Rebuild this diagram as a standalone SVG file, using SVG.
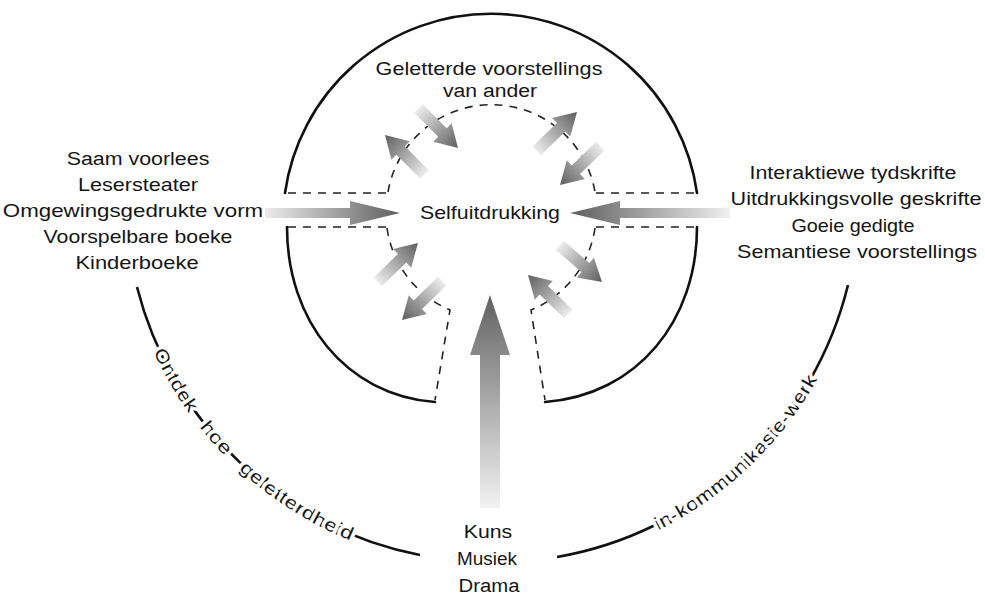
<svg xmlns="http://www.w3.org/2000/svg" xmlns:xlink="http://www.w3.org/1999/xlink" width="985" height="595" viewBox="0 0 985 595">
<style>
  text { font-family: "Liberation Sans", Arial, sans-serif; font-size: 18px; fill: #151515; }
  .c { text-anchor: middle; }
  .solid { fill: none; stroke: #111; stroke-width: 2.6; stroke-linecap: round; }
  .dash { fill: none; stroke: #222; stroke-width: 1.6; stroke-dasharray: 8 7; }
  .arc { fill: none; stroke: #111; stroke-width: 2.6; }
  .halo { stroke: #fff; stroke-width: 6; paint-order: stroke; stroke-linejoin: round; dominant-baseline: central; }
</style>
<defs>
  <linearGradient id="gx" x1="0" y1="0" x2="1" y2="0">
    <stop offset="0" stop-color="#ececec"/>
    <stop offset="1" stop-color="#5e5e5e"/>
  </linearGradient>
  <linearGradient id="gxr" x1="1" y1="0" x2="0" y2="0">
    <stop offset="0" stop-color="#f0f0f0"/>
    <stop offset="1" stop-color="#5e5e5e"/>
  </linearGradient>
  <linearGradient id="gy" x1="0" y1="1" x2="0" y2="0">
    <stop offset="0" stop-color="#f2f2f2"/>
    <stop offset="1" stop-color="#626262"/>
  </linearGradient>
  <polygon id="sa" points="0,0 -22,-13 -22,-6 -56,-6 -56,6 -22,6 -22,13" fill="url(#gx)"/>
  <path id="outerL" d="M137,287 A364,364 0 0 0 420,555"/>
  <path id="outerR" d="M557,557 A364,364 0 0 0 848,285"/>
</defs>
<rect width="985" height="595" fill="#fff"/>

<g id="frame">
  <path class="solid" d="M285,193 A208,208 0 0 1 697,193"/>
  <path class="solid" d="M287,227 C287,320 345,395 435,402"/>
  <path class="solid" d="M697,227 C697,320 638,395 545,402"/>
  <path class="dash" d="M288,193 H386"/>
  <path class="dash" d="M596,193 H695"/>
  <path class="dash" d="M288,227 H386"/>
  <path class="dash" d="M596,227 H695"/>
  <path class="dash" d="M388,192 A105,105 0 0 1 595,192"/>
  <path class="dash" d="M387,228 A105,105 0 0 0 450,310 L435,400"/>
  <path class="dash" d="M595,228 A105,105 0 0 1 531,310 L545,400"/>
</g>

<g id="connectors">
  <polygon points="265,208 350,208 350,201 400,213 350,225 350,218 265,218" fill="url(#gx)"/>
  <polygon points="730,208 620,208 620,201 570,213 620,225 620,218 730,218" fill="url(#gxr)"/>
  <polygon points="480,508 480,355 470,355 490,295 510,355 500,355 500,508" fill="url(#gy)"/>
  <use xlink:href="#sa" transform="translate(385,135) rotate(225)"/>
  <use xlink:href="#sa" transform="translate(458,148) rotate(45)"/>
  <use xlink:href="#sa" transform="translate(577,112) rotate(316)"/>
  <use xlink:href="#sa" transform="translate(560,185) rotate(136)"/>
  <use xlink:href="#sa" transform="translate(418,243) rotate(316)"/>
  <use xlink:href="#sa" transform="translate(402,320) rotate(136)"/>
  <use xlink:href="#sa" transform="translate(602,282) rotate(41)"/>
  <use xlink:href="#sa" transform="translate(528,275) rotate(224)"/>
  <use xlink:href="#outerL" class="arc"/>
  <use xlink:href="#outerR" class="arc"/>
</g>

<g id="node-center">
  <text class="c" transform="translate(490,219) scale(1.186,1)">Selfuitdrukking</text>
</g>
<g id="node-top">
  <text class="c" transform="translate(489,75) scale(1.2,1)">Geletterde voorstellings</text>
  <text class="c" transform="translate(490,97) scale(1.175,1)">van ander</text>
</g>
<g id="node-left">
  <text class="c" transform="translate(138,165) scale(1.19,1)">Saam voorlees</text>
  <text class="c" transform="translate(138,191) scale(1.2,1)">Lesersteater</text>
  <text class="c" transform="translate(133,217) scale(1.24,1)">Omgewingsgedrukte vorm</text>
  <text class="c" transform="translate(138,243) scale(1.18,1)">Voorspelbare boeke</text>
  <text class="c" transform="translate(137,269) scale(1.22,1)">Kinderboeke</text>
</g>
<g id="node-right">
  <text class="c" transform="translate(853,179) scale(1.19,1)">Interaktiewe tydskrifte</text>
  <text class="c" transform="translate(856,205) scale(1.2,1)">Uitdrukkingsvolle geskrifte</text>
  <text class="c" transform="translate(853,232) scale(1.1,1)">Goeie gedigte</text>
  <text class="c" transform="translate(857,258) scale(1.2,1)">Semantiese voorstellings</text>
</g>
<g id="node-bottom">
  <text class="c" transform="translate(488,538) scale(1.18,1)">Kuns</text>
  <text class="c" transform="translate(487,565) scale(1.05,1)">Musiek</text>
  <text class="c" transform="translate(489,592) scale(1.13,1)">Drama</text>
</g>
<g id="label-left">
  <text class="halo"><textPath xlink:href="#outerL" startOffset="66" textLength="70" lengthAdjust="spacingAndGlyphs">Ontdek</textPath></text>
  <text class="halo"><textPath xlink:href="#outerL" startOffset="153" textLength="38" lengthAdjust="spacingAndGlyphs">hoe</textPath></text>
  <text class="halo"><textPath xlink:href="#outerL" startOffset="210" textLength="131" lengthAdjust="spacingAndGlyphs">geletterdheid</textPath></text>
</g>
<g id="label-right">
  <text class="halo"><textPath xlink:href="#outerR" startOffset="104" textLength="219" lengthAdjust="spacingAndGlyphs">in-kommunikasie-werk</textPath></text>
</g>
</svg>
